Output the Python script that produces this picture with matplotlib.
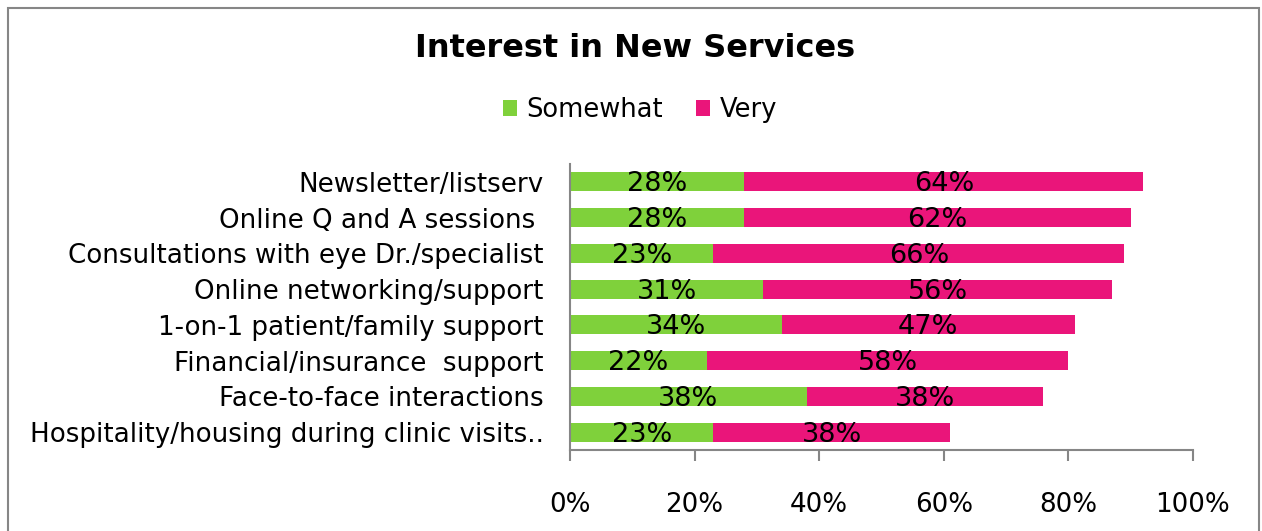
import matplotlib

matplotlib.use("Agg")

import matplotlib.pyplot as plt
from matplotlib.patches import Rectangle

categories = [
    "Newsletter/listserv",
    "Online Q and A sessions ",
    "Consultations with eye Dr./specialist",
    "Online networking/support",
    "1-on-1 patient/family support",
    "Financial/insurance  support",
    "Face-to-face interactions",
    "Hospitality/housing during clinic visits..",
]
somewhat = [28, 28, 23, 31, 34, 22, 38, 23]
very = [64, 62, 66, 56, 47, 58, 38, 38]
x_ticks = [0, 20, 40, 60, 80, 100]

GREEN = "#7FD13B"
PINK = "#EA157A"
GRAY = "#868686"

W, H = 1262, 531
fig = plt.figure(figsize=(W / 100, H / 100), dpi=100)
plt.rcParams["font.family"] = ["DejaVu Sans"]

ax = fig.add_axes([570 / W, (H - 450) / H, (1193 - 570) / W, (450 - 164) / H])

y = list(range(len(categories)))
bar_h = 0.53
b1 = ax.barh(y, somewhat, height=bar_h, color=GREEN, label="Somewhat")
b2 = ax.barh(y, very, left=somewhat, height=bar_h, color=PINK, label="Very")

for i in y:
    ax.text(somewhat[i] / 2, i + 0.07, f"{somewhat[i]}%", ha="center", va="center",
            fontsize=19.5, color="black")
    ax.text(somewhat[i] + very[i] / 2, i + 0.07, f"{very[i]}%", ha="center",
            va="center", fontsize=19.5, color="black")

ax.set_xlim(0, 100)
ax.set_ylim(len(categories) - 0.5, -0.5)
ax.set_yticks(y)
ax.set_yticklabels(categories, fontsize=18.8)
ax.set_xticks(x_ticks)
ax.set_xticklabels([f"{t}%" for t in x_ticks], fontsize=18.8)
ax.tick_params(axis="y", length=0, pad=19)
ax.tick_params(axis="x", length=8, width=1.5, color=GRAY, pad=22, direction="out")

for side in ("top", "right"):
    ax.spines[side].set_visible(False)
for side in ("left", "bottom"):
    ax.spines[side].set_color(GRAY)
    ax.spines[side].set_linewidth(1.5)

fig.text(635 / W, 1 - 48 / H, "Interest in New Services", ha="center", va="center",
         fontsize=23, fontweight="bold")

fig.legend(handles=[b1, b2], loc="center", bbox_to_anchor=(640 / W, 1 - 110 / H),
           ncol=2, frameon=False, fontsize=18.5, handlelength=0.55, handleheight=0.55,
           handletextpad=0.35, columnspacing=1.3)

fig.patches.append(Rectangle((7.5 / W, -0.1), (1259 - 7.5) / W, 1.1 - 7.5 / H,
                             transform=fig.transFigure, fill=False,
                             edgecolor=GRAY, linewidth=1.5))

fig.savefig("out.png", dpi=100, facecolor="white")
